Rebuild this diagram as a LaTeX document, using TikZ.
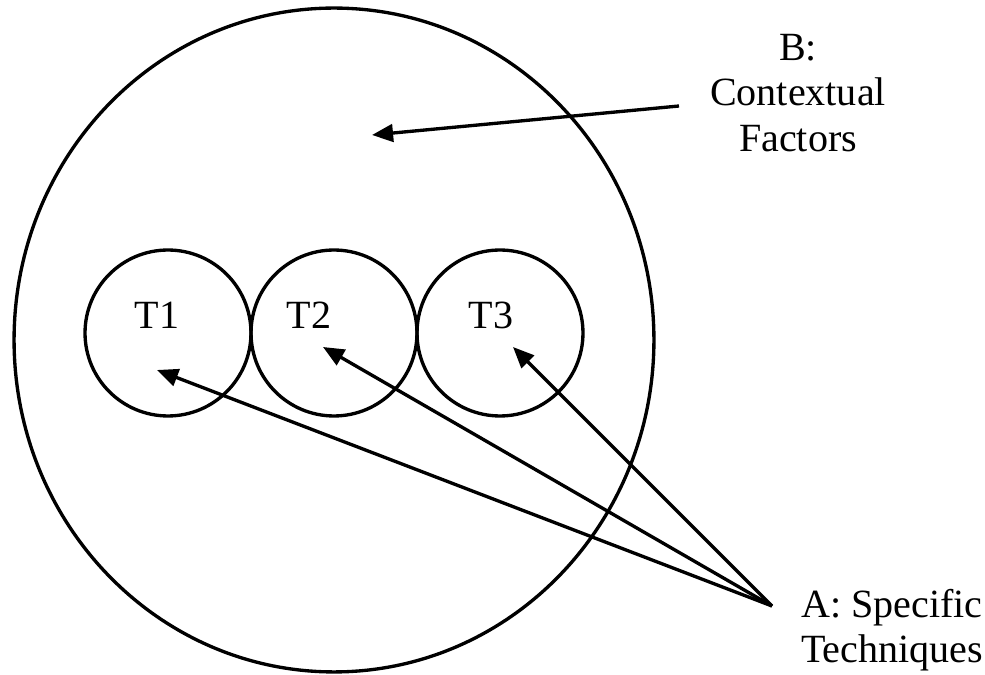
\documentclass[tikz,border=0pt]{standalone}
\usepackage{fontspec}
\setmainfont{Liberation Serif}
\usetikzlibrary{arrows.meta, shapes.geometric}

\begin{document}
\begin{tikzpicture}[x=0.02cm, y=-0.02cm, line width=1.9pt,
    tech/.style={draw, circle, minimum size=3.32cm, inner sep=0pt},
    pointer/.style={-{Triangle[length=12pt, width=10pt]}},
    txt/.style={font=\fontsize{22.8}{25.8}\selectfont, align=center}]
    \useasboundingbox (0,0) rectangle (985,675);

    % Outer circle (context)
    \node[draw, ellipse, minimum width=12.8cm, minimum height=13.28cm] (ctx) at (334,340) {};

    % Technique circles
    \node[tech] (c1) at (168,333) {};
    \node[tech] (c2) at (334,333) {};
    \node[tech] (c3) at (500,333) {};
    \node[txt] (t1) at (157,315) {T1};
    \node[txt] (t2) at (309,315) {T2};
    \node[txt] (t3) at (491,315) {T3};

    % Labels
    \node[txt] (bLabel) at (798,93) {B:\\Contextual\\Factors};
    \node[txt] (aLabel) at (892,630) {A: Specific\\Techniques};

    % Arrow ends
    \coordinate (bStart) at (679,106);
    \coordinate (bTip) at (372,135);
    \coordinate (aApex) at (772,606);
    \coordinate (tip1) at (157,370);
    \coordinate (tip2) at (323,347);
    \coordinate (tip3) at (513,347);

    % Arrows
    \draw[pointer] (bStart) -- (bTip);
    \draw[pointer] (aApex) -- (tip1);
    \draw[pointer] (aApex) -- (tip2);
    \draw[pointer] (aApex) -- (tip3);
\end{tikzpicture}
\end{document}
